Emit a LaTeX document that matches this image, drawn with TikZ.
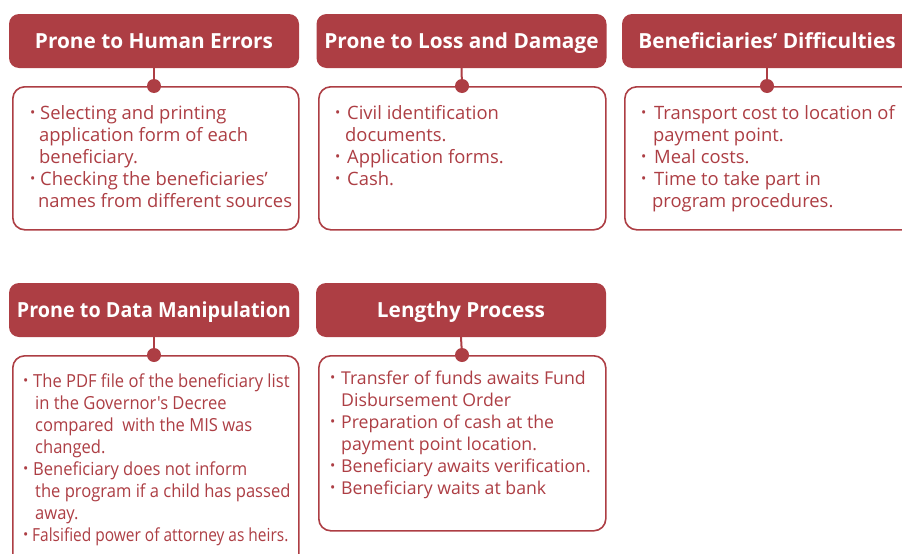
\documentclass[tikz,border=0pt]{standalone}
\usepackage{fontspec}
\setmainfont{Open Sans}
\newfontfamily\condfont[FakeStretch=0.92]{Open Sans}
\newfontfamily\condfontb[FakeStretch=0.86]{Open Sans}
\definecolor{rd}{HTML}{AD3E44}
\newcommand\tline[4]{\node[txt] (#1) at (#2,#3) {#4};}
\newcommand\bul[3]{\node[bulletmark] (#1) at (#2,#3) {\raisebox{2pt}{•}};}
\tikzset{
  head/.style={fill=rd, draw=none, rounded corners=10pt, minimum width=290pt, minimum height=54pt,
    text=white, font=\fontsize{20.8}{24}\selectfont\bfseries, inner sep=0, text height=15pt, text depth=0pt},
  body/.style={draw=rd, line width=1.6pt, rounded corners=12pt, anchor=north west, inner sep=0, fill=white},
  dotnode/.style={circle, fill=rd, minimum size=14pt, inner sep=0},
  link/.style={draw=rd, line width=2pt},
  txt/.style={anchor=base west, inner sep=0, text=rd, font=\fontsize{18.4}{22}\selectfont},
  bulletmark/.style={anchor=base west, inner sep=0, text=rd, font=\fontsize{14}{16}\selectfont},
}
\begin{document}
\begin{tikzpicture}[x=1pt,y=-1pt]
\useasboundingbox (0,0) rectangle (902,554);
\clip (0,0) rectangle (902,554);
% ---------- Box 1
\node[head] (h1) at (154,41) {Prone to Human Errors};
\node[body, minimum width=286pt, minimum height=143pt] (b1) at (12,86) {};
\draw[link] (h1.south) -- (154,86);
\node[dotnode] (d1) at (154,86) {};
\bul{b1a}{30}{119}
\bul{b1b}{30}{185}
\tline{b1l1}{40}{119}{Selecting and printing}
\tline{b1l2}{39}{141}{application form of each}
\tline{b1l3}{39}{163}{beneficiary.}
\tline{b1l4}{40}{185}{Checking the beneficiaries’}
\tline{b1l5}{38}{207}{names from different sources}
% ---------- Box 2
\node[head] (h2) at (461.5,41) {Prone to Loss and Damage};
\node[body, minimum width=287pt, minimum height=143pt] (b2) at (318,86) {};
\draw[link] (h2.south) -- (462,86);
\node[dotnode] (d2) at (462,86) {};
\bul{b2a}{335}{119}
\bul{b2b}{335}{163}
\bul{b2c}{335}{185}
\tline{b2l1}{347}{119}{Civil identification}
\tline{b2l2}{345}{141}{documents.}
\tline{b2l3}{347}{163}{Application forms.}
\tline{b2l4}{347}{185}{Cash.}
% ---------- Box 3
\node[head] (h3) at (767,41) {Beneficiaries’ Difficulties};
\node[body, minimum width=290pt, minimum height=143pt] (b3) at (624,86) {};
\draw[link] (h3.south) -- (767,86);
\node[dotnode] (d3) at (767,86) {};
\bul{b3a}{641}{119}
\bul{b3b}{641}{163}
\bul{b3c}{641}{185}
\tline{b3l1}{654}{119}{Transport cost to location of}
\tline{b3l2}{653}{141}{payment point.}
\tline{b3l3}{654}{163}{Meal costs.}
\tline{b3l4}{654}{185}{Time to take part in}
\tline{b3l5}{652}{207}{program procedures.}
% ---------- Box 4
\node[head] (h4) at (154,310) {\scalebox{0.95}[1]{Prone to Data Manipulation}};
\node[body, minimum width=286pt, minimum height=220pt] (b4) at (12,355) {};
\draw[link] (h4.south) -- (154,355);
\node[dotnode] (d4) at (154,355) {};
\begin{scope}[txt/.append style={font=\fontsize{18}{22}\condfont}]
\bul{b4a}{23}{387}
\bul{b4b}{23}{475}
\bul{b4c}{23}{541}
\tline{b4l1}{33}{387}{The PDF file of the beneficiary list}
\tline{b4l2}{35}{409}{in the Governor's Decree}
\tline{b4l3}{35}{431}{compared\ \ with the MIS was}
\tline{b4l4}{35}{453}{changed.}
\tline{b4l5}{33}{475}{Beneficiary does not inform}
\tline{b4l6}{35}{497}{the program if a child has passed}
\tline{b4l7}{35}{519}{away.}
\end{scope}
\node[txt, font=\fontsize{18}{22}\condfontb] (b4l8) at (32,541) {Falsified power of attorney as heirs.};
% ---------- Box 5
\node[head] (h5) at (461,310) {Lengthy Process};
\node[body, minimum width=287pt, minimum height=175pt] (b5) at (318,355) {};
\draw[link] (h5.south) -- (462,355);
\node[dotnode] (d5) at (462,355) {};
\begin{scope}[txt/.append style={font=\fontsize{17.7}{22}\selectfont}]
\bul{b5a}{330}{384}
\bul{b5b}{330}{428}
\bul{b5c}{330}{472}
\bul{b5d}{330}{494}
\tline{b5l1}{341}{384}{Transfer of funds awaits Fund}
\tline{b5l2}{341}{406}{Disbursement Order}
\tline{b5l3}{341}{428}{Preparation of cash at the}
\tline{b5l4}{341}{450}{payment point location.}
\tline{b5l5}{341}{472}{Beneficiary awaits verification.}
\tline{b5l6}{341}{494}{Beneficiary waits at bank}
\end{scope}
\end{tikzpicture}
\end{document}
